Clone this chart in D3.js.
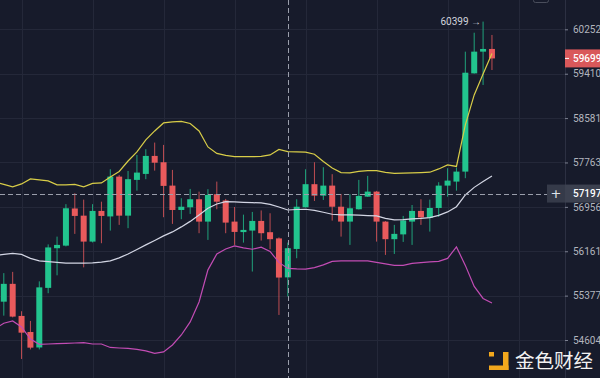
<!DOCTYPE html>
<html>
<head>
<meta charset="utf-8">
<script src="https://cdn.jsdelivr.net/npm/d3@7"></script>
<style>
  html, body { margin: 0; padding: 0; background: #171b2b; }
  svg { display: block; }
</style>
</head>
<body>
<svg id="chart" width="600" height="378"></svg>
<script>
let width = 600;
let height = 378;
let plotRight = 565;

// candles, one per period (index 0..55)
let opens = [55271, 55584, 55022, 54743, 54475, 55513, 56215, 56261, 56927, 56798,
  56333, 56883, 56784, 57505, 56798, 57445, 57554, 57883, 57767, 57341,
  56900, 56949, 57094, 56691, 57185, 57072, 56691, 56503, 56530, 56703,
  56501, 56390, 55698, 56202, 56949, 57367, 57159, 57341, 56959, 56691,
  56913, 57141, 57232, 56691, 56376, 56462, 56691, 56883, 56757, 56936,
  57341, 57414, 57596, 59417, 59827, 59878];
let highs = [55773, 55795, 55104, 54935, 55628, 56283, 56422, 57005, 57203, 57087,
  57005, 57050, 57639, 57536, 57608, 57901, 58006, 58128, 58085, 57627,
  57112, 57281, 57232, 57276, 57414, 57100, 56954, 56816, 56865, 56892,
  56841, 56408, 56315, 57094, 57639, 57767, 57676, 57549, 57190, 57185,
  57445, 57518, 57245, 56700, 56632, 56793, 56990, 57094, 57087, 57403,
  57658, 57668, 59827, 60187, 60399, 60144];
let lows = [55027, 54996, 54277, 54441, 54441, 55419, 55734, 56247, 56471, 55875,
  56318, 56304, 56530, 56632, 56573, 57250, 57458, 57614, 56770, 56650,
  56734, 56829, 56483, 56363, 56913, 56483, 56274, 56315, 55801, 56351,
  56197, 55039, 55361, 56037, 56945, 57063, 57081, 56709, 56422, 56274,
  56909, 57136, 56333, 56096, 56113, 56327, 56274, 56632, 56512, 56775,
  57141, 57250, 57476, 59413, 59199, 59480];
let closes = [55584, 55010, 54731, 54472, 55522, 56229, 56274, 56931, 56793, 56333,
  56883, 56793, 57505, 56798, 57458, 57578, 57883, 57759, 57336, 56900,
  56959, 57094, 56691, 57172, 57050, 56673, 56506, 56542, 56703, 56483,
  56376, 55695, 56215, 56959, 57367, 57159, 57341, 56959, 56691, 56931,
  57154, 57232, 56691, 56376, 56471, 56712, 56883, 56766, 56936, 57341,
  57432, 57596, 59429, 59827, 59878, 59699];

// bollinger bands, first value belongs to the period before candle 0
let upperBand = [57409, 57363, 57318, 57372, 57463, 57445, 57427, 57354, 57354, 57363,
  57318, 57381, 57390, 57499, 57599, 57790, 57956, 58177, 58343, 58491,
  58509, 58518, 58481, 58343, 58048, 57929, 57892, 57870, 57870, 57870,
  57873, 57901, 58002, 57962, 57956, 57951, 57914, 57781, 57663, 57578,
  57572, 57599, 57614, 57614, 57581, 57563, 57567, 57572, 57579, 57585,
  57645, 57718, 57690, 58454, 59012, 59404, 59793];
let middleBand = [56087, 56104, 56122, 56104, 56034, 55990, 55977, 55963, 55949, 55949,
  55949, 55954, 55967, 55990, 56043, 56113, 56193, 56274, 56354, 56435,
  56506, 56596, 56695, 56811, 56931, 57009, 57050, 57045, 57039, 57032,
  57027, 57000, 56954, 56900, 56909, 56913, 56892, 56859, 56823, 56811,
  56811, 56806, 56798, 56793, 56748, 56721, 56725, 56739, 56748, 56762,
  56802, 56865, 56959, 57172, 57309, 57418, 57518];
let lowerBand = [54796, 54895, 54935, 54830, 54621, 54530, 54535, 54540, 54547, 54552,
  54558, 54535, 54535, 54475, 54466, 54458, 54441, 54415, 54375, 54398,
  54518, 54691, 54917, 55266, 55831, 56113, 56202, 56256, 56220, 56197,
  56233, 56157, 55963, 55857, 55848, 55843, 55871, 55919, 55981, 55990,
  55990, 55990, 55990, 55963, 55937, 55910, 55910, 55946, 55960, 55972,
  55981, 56034, 56238, 55910, 55539, 55327, 55248];

let priceTicks = [60252, 59410, 58581, 57763, 56956, 56161, 55377, 54604];
let lastPrice = 59699;
let crossPrice = 57197;
let crossIndex = 32;
let highIndex = 54;
let highPrice = 60399;

let upColor = '#22c48e';
let downColor = '#e95a5c';

let svg = d3.select('#chart');

let x = d3.scaleLinear().domain([-0.428, 63.23]).range([0, plotRight]);
let y = d3.scaleLog().domain([54604, 60252]).range([340, 29.3]);

svg.append('rect')
  .attr('width', width)
  .attr('height', height)
  .attr('fill', '#171b2b');

svg.append('clipPath')
  .attr('id', 'plot-clip')
  .append('rect')
  .attr('width', plotRight)
  .attr('height', height);

let plot = svg.append('g').attr('clip-path', 'url(#plot-clip)');

// grid
plot.selectAll('.hgrid')
  .data(priceTicks)
  .enter()
  .append('line')
  .attr('class', 'hgrid')
  .attr('x1', 0)
  .attr('x2', plotRight)
  .attr('y1', (d) => Math.round(y(d)) + 0.5)
  .attr('y2', (d) => Math.round(y(d)) + 0.5)
  .attr('stroke', '#242839');

plot.selectAll('.vgrid')
  .data(d3.range(2, 64, 8))
  .enter()
  .append('line')
  .attr('class', 'vgrid')
  .attr('x1', (d) => Math.round(x(d)) + 0.5)
  .attr('x2', (d) => Math.round(x(d)) + 0.5)
  .attr('y1', 0)
  .attr('y2', height)
  .attr('stroke', '#242839');

// candles
let candles = opens.map((o, i) => ({
  i,
  o,
  h: highs[i],
  l: lows[i],
  c: closes[i]
}));

let cg = plot.selectAll('.candle')
  .data(candles)
  .enter()
  .append('g')
  .attr('class', 'candle');

cg.append('line')
  .attr('x1', (d) => x(d.i))
  .attr('x2', (d) => x(d.i))
  .attr('y1', (d) => y(d.h))
  .attr('y2', (d) => y(d.l))
  .attr('stroke', (d) => d.c >= d.o ? upColor : downColor)
  .attr('stroke-opacity', 0.8)
  .attr('stroke-width', 1);

cg.append('rect')
  .attr('x', (d) => x(d.i) - 3)
  .attr('width', 6)
  .attr('y', (d) => y(Math.max(d.o, d.c)))
  .attr('height', (d) => Math.max(1.5, Math.abs(y(d.o) - y(d.c))))
  .attr('fill', (d) => d.c >= d.o ? upColor : downColor);

// bands
let bandLine = d3.line()
  .x((d, i) => x(i - 1))
  .y((d) => y(d));

let bands = [
  { values: upperBand, color: '#d8cd48' },
  { values: middleBand, color: '#d3d6e4' },
  { values: lowerBand, color: '#c24cb4' }
];

for (let b of bands) {
  plot.append('path')
    .datum(b.values)
    .attr('d', bandLine)
    .attr('fill', 'none')
    .attr('stroke', b.color)
    .attr('stroke-width', 1.2);
}

// crosshair
plot.append('line')
  .attr('x1', Math.round(x(crossIndex)) + 0.5)
  .attr('x2', Math.round(x(crossIndex)) + 0.5)
  .attr('y1', 0)
  .attr('y2', height)
  .attr('stroke', '#9a9eab')
  .attr('stroke-dasharray', '5,3');

svg.append('line')
  .attr('x1', 0)
  .attr('x2', 547)
  .attr('y1', Math.round(y(crossPrice)) + 0.5)
  .attr('y2', Math.round(y(crossPrice)) + 0.5)
  .attr('stroke', '#9a9eab')
  .attr('stroke-dasharray', '5,3');

// high marker
svg.append('text')
  .text(highPrice + ' →')
  .attr('x', x(highIndex) - 2)
  .attr('y', y(highPrice))
  .attr('dy', '0.35em')
  .attr('text-anchor', 'end')
  .attr('fill', '#d1d4dc')
  .style('font-family', 'Roboto, sans-serif')
  .style('font-size', '10px');

// price axis
svg.append('line')
  .attr('x1', plotRight + 0.5)
  .attr('x2', plotRight + 0.5)
  .attr('y1', 0)
  .attr('y2', height)
  .attr('stroke', '#2c3042');

let axis = svg.append('g')
  .attr('transform', `translate(${plotRight},0)`)
  .call(d3.axisRight(y).tickValues(priceTicks).tickFormat(d3.format('d')).tickSize(3).tickPadding(5));

axis.select('.domain').remove();
axis.selectAll('line').attr('stroke', '#7c8090');
axis.selectAll('text')
  .attr('fill', '#b2b5be')
  .style('font-family', 'Roboto, sans-serif')
  .style('font-size', '10px');

// last price label
let ly = y(lastPrice);
svg.append('rect')
  .attr('x', plotRight)
  .attr('y', ly - 9)
  .attr('width', width - plotRight)
  .attr('height', 18)
  .attr('fill', '#d9585a');
svg.append('line')
  .attr('x1', plotRight)
  .attr('x2', plotRight + 4)
  .attr('y1', ly)
  .attr('y2', ly)
  .attr('stroke', '#ffffff');
svg.append('text')
  .text(lastPrice)
  .attr('x', plotRight + 8)
  .attr('y', ly)
  .attr('dy', '0.35em')
  .attr('fill', '#ffffff')
  .style('font-family', 'Roboto, sans-serif')
  .style('font-size', '10px')
  .style('font-weight', 500);

// crosshair label
let cy = y(crossPrice);
svg.append('rect')
  .attr('x', 547)
  .attr('y', cy - 9)
  .attr('width', plotRight - 547)
  .attr('height', 18)
  .attr('fill', '#353a49');
svg.append('rect')
  .attr('x', plotRight)
  .attr('y', cy - 9)
  .attr('width', width - plotRight)
  .attr('height', 18)
  .attr('fill', '#3c4150');
svg.append('text')
  .text('+')
  .attr('x', 556)
  .attr('y', cy)
  .attr('dy', '0.35em')
  .attr('text-anchor', 'middle')
  .attr('fill', '#e0e3eb')
  .style('font-family', 'DejaVu Sans, sans-serif')
  .style('font-size', '13px');
svg.append('text')
  .text(crossPrice)
  .attr('x', plotRight + 8)
  .attr('y', cy)
  .attr('dy', '0.35em')
  .attr('fill', '#ffffff')
  .style('font-family', 'Roboto, sans-serif')
  .style('font-size', '10px')
  .style('font-weight', 500);

// small button at top
svg.append('rect')
  .attr('x', 533.5)
  .attr('y', -10)
  .attr('width', 15)
  .attr('height', 12.5)
  .attr('rx', 2)
  .attr('fill', 'none')
  .attr('stroke', '#4a4e5c');

// watermark
let logo = svg.append('g').attr('fill', '#f2a81d');
logo.append('rect').attr('x', 489).attr('y', 352).attr('width', 5).attr('height', 4.5);
logo.append('rect').attr('x', 503).attr('y', 352).attr('width', 5.5).attr('height', 18);
logo.append('rect').attr('x', 489).attr('y', 365.5).attr('width', 19.5).attr('height', 4.5);

svg.append('text')
  .text('金色财经')
  .attr('x', 515)
  .attr('y', 368)
  .attr('fill', '#f2f2f2')
  .style('font-family', '"Noto Sans CJK SC", sans-serif')
  .style('font-size', '19.5px');
</script>
</body>
</html>
